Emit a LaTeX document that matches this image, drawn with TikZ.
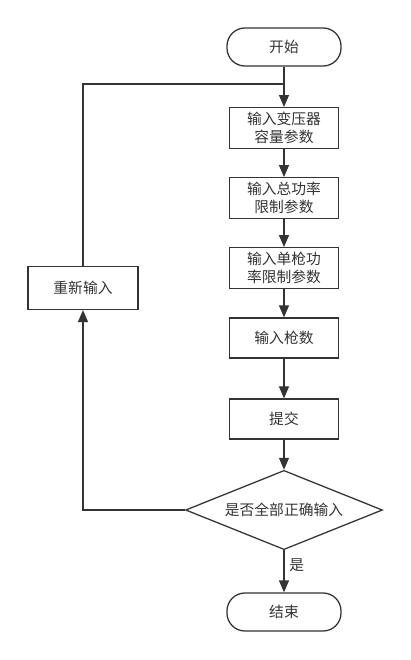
\documentclass[tikz,border=0pt]{standalone}
\usepackage{fontspec}
\newfontfamily\cjk{Noto Sans CJK SC}
\usetikzlibrary{arrows.meta,shapes.geometric}
\definecolor{darkline}{HTML}{333333}
\tikzset{
  card/.style={rectangle, align=center, draw=darkline, line width=0.9pt, text=darkline,
               minimum width=2.72cm, minimum height=1.0cm, font=\cjk\fontsize{10.5}{12.5}\selectfont},
  terminal/.style={card, rounded corners=0.45cm, minimum width=2.85cm, minimum height=0.95cm},
  decision/.style={diamond, aspect=2.5, draw=darkline, line width=0.9pt, inner sep=0pt, text=darkline,
                   minimum width=4.92cm, minimum height=1.98cm, font=\cjk\fontsize{10.5}{12.5}\selectfont},
  lbl/.style={font=\cjk\fontsize{10.5}{12.5}\selectfont, text=darkline},
  flow/.style={-{Triangle[length=3mm,width=2.5mm]}, line width=0.9pt, draw=darkline}
}

\begin{document}
\begin{tikzpicture}[x=0.025cm, y=-0.025cm]
\useasboundingbox (0,0) rectangle (411,660);

%% Main column
\node[terminal] (start) at (284, 47)  {开始};
\node[card]     (cap)   at (284, 128) {输入变压器\\容量参数};
\node[card]     (total) at (284, 198) {输入总功率\\限制参数};
\node[card]     (gun)   at (284, 268) {输入单枪功\\率限制参数};
\node[card]     (count) at (284, 338) {输入枪数};
\node[card]     (submit) at (284, 419) {提交};
\node[decision] (check) at (284, 510) {是否全部正确输入};
\node[terminal] (stop)  at (284, 612) {结束};

%% Retry branch
\node[card, minimum width=2.75cm, minimum height=1.07cm] (retry) at (83, 288) {重新输入};
\coordinate (join) at (284, 84);

%% Flow
\draw[flow] (start) -- (cap);
\draw[flow] (cap) -- (total);
\draw[flow] (total) -- (gun);
\draw[flow] (gun) -- (count);
\draw[flow] (count) -- (submit);
\draw[flow] (submit) -- (check);
\draw[flow] (check) -- node[lbl, right, pos=0.35] {是} (stop);
% No → back to retry, then up into the first input
\draw[flow] (check.west) -| (retry.south);
\draw[line width=0.9pt, draw=darkline] (retry.north) |- (join);

\end{tikzpicture}
\end{document}
